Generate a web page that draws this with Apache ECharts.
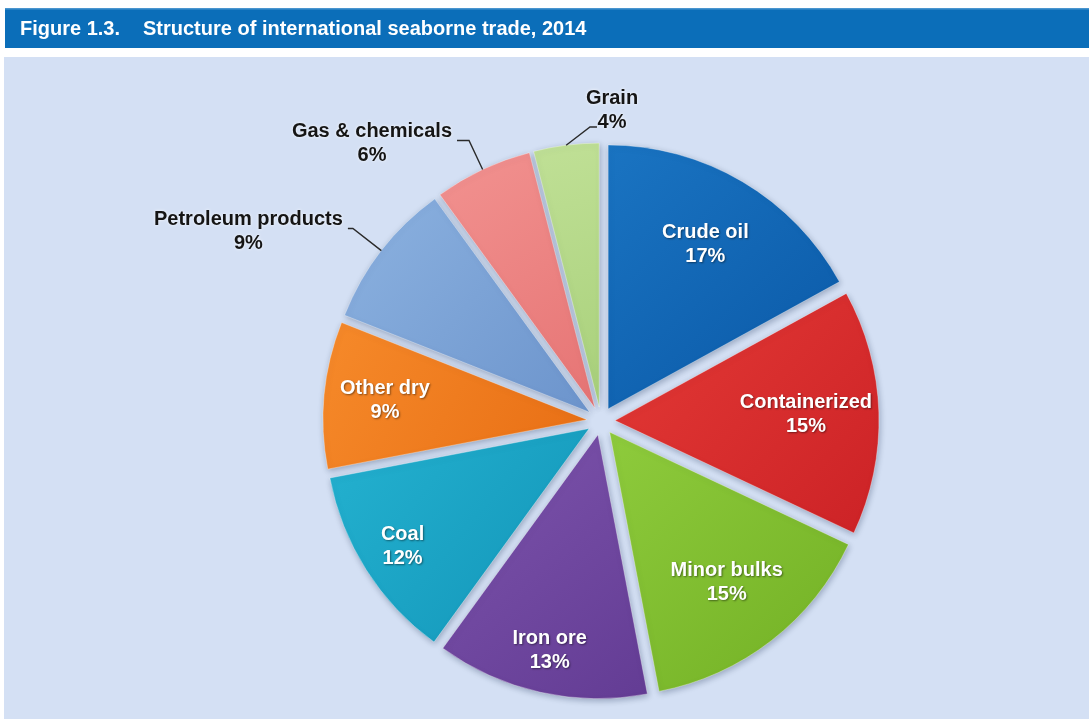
<!DOCTYPE html>
<html>
<head>
<meta charset="utf-8">
<title>Structure of international seaborne trade, 2014</title>
<script src="https://cdn.jsdelivr.net/npm/echarts@6/dist/echarts.min.js"></script>
<style>
  html, body { margin: 0; padding: 0; background: #fff; }
  #chart { width: 1089px; height: 719px; }
</style>
</head>
<body>
<div id="chart"></div>
<script>
const categories = ['Crude oil', 'Containerized', 'Minor bulks', 'Iron ore', 'Coal', 'Other dry', 'Petroleum products', 'Gas & chemicals', 'Grain']
const shares = [17, 15, 15, 13, 12, 9, 9, 6, 4]
const outsideNames = ['Petroleum products', 'Gas & chemicals', 'Grain']
// inside labels are carried by transparent rings at different distances from the centre
const nearRing = ['Crude oil', 'Containerized', 'Minor bulks']
const midRing = ['Other dry']
const farRing = ['Iron ore', 'Coal']
// leader line lengths of the outside labels [length, length2]
const leader = { 'Petroleum products': [36, 5], 'Gas & chemicals': [32, 12], 'Grain': [30, 8] }

// slice colours: [light, dark]
const colors = [
  ['#1a74c2', '#0a58a6'],
  ['#e43a36', '#cc2226'],
  ['#8ecb3c', '#72b024'],
  ['#7d54ac', '#633c94'],
  ['#24b2d0', '#1294b8'],
  ['#f68a2a', '#e86e14'],
  ['#8cb2e0', '#6c94cc'],
  ['#f29290', '#e67474'],
  ['#c0e096', '#a8d07a']
]

const font = "'Liberation Sans', Arial, sans-serif"
const center = [601, 421]
const radius = 264
const offset = 14
const total = shares.reduce((a, b) => a + b, 0)

const chart = echarts.init(document.getElementById('chart'), null, { renderer: 'canvas' })

const grad = (c) => new echarts.graphic.LinearGradient(0, 0, 1, 1, [
  { offset: 0, color: c[0] },
  { offset: 1, color: c[1] }
])

// point on the exploded rim at the middle of slice i
const rimPoint = (i) => {
  const before = shares.slice(0, i).reduce((a, b) => a + b, 0)
  const ang = (90 - (before + shares[i] / 2) / total * 360) * Math.PI / 180
  const r = radius + offset
  return [center[0] + Math.cos(ang) * r, center[1] - Math.sin(ang) * r]
}

const labelText = (p) => '{t|' + p.name + '}\n{t|' + p.value + '%}'

const insideLabel = {
  show: true,
  position: 'inside',
  formatter: labelText,
  rich: {
    t: {
      align: 'center',
      fontFamily: font,
      fontWeight: 'bold',
      fontSize: 20,
      lineHeight: 24,
      color: '#ffffff',
      textShadowColor: 'rgba(0,0,0,0.45)',
      textShadowBlur: 2,
      textShadowOffsetX: 1,
      textShadowOffsetY: 1
    }
  }
}

// transparent ring that only carries the labels of the given slices
const labelRing = (names, r) => ({
  type: 'pie',
  z: 3,
  silent: true,
  center: center,
  radius: r,
  startAngle: 90,
  clockwise: true,
  selectedMode: 'multiple',
  selectedOffset: offset,
  emphasis: { disabled: true },
  itemStyle: { color: 'rgba(0,0,0,0)' },
  labelLine: { show: false },
  data: categories.map((name, i) => ({
    name: name,
    value: shares[i],
    selected: true,
    label: names.includes(name) ? insideLabel : { show: false }
  }))
})

chart.setOption({
  animation: false,
  backgroundColor: '#ffffff',
  graphic: [
    { type: 'rect', z: 0, shape: { x: 5, y: 8, width: 1084, height: 40 }, style: { fill: '#0b6eb9' } },
    { type: 'rect', z: 0, shape: { x: 5, y: 8, width: 1084, height: 1.5 }, style: { fill: '#4a95cf' } },
    { type: 'rect', z: 0, shape: { x: 4, y: 57, width: 1085, height: 662 }, style: { fill: '#d4e0f4' } },
    {
      type: 'text', z: 1, x: 20, y: 29,
      style: { text: 'Figure 1.3.', fill: '#ffffff', font: 'bold 20px ' + font, verticalAlign: 'middle' }
    },
    {
      type: 'text', z: 1, x: 143, y: 29,
      style: { text: 'Structure of international seaborne trade, 2014', fill: '#ffffff', font: 'bold 20px ' + font, verticalAlign: 'middle' }
    }
  ],
  series: [
    // the exploded slices
    {
      type: 'pie',
      z: 2,
      center: center,
      radius: radius,
      startAngle: 90,
      clockwise: true,
      selectedMode: 'multiple',
      selectedOffset: offset,
      emphasis: { disabled: true },
      itemStyle: {
        borderColor: 'rgba(255,255,255,0.35)',
        borderWidth: 1,
        shadowBlur: 6,
        shadowColor: 'rgba(40,60,90,0.35)',
        shadowOffsetX: 1,
        shadowOffsetY: 2
      },
      label: { show: false },
      labelLine: { show: false },
      data: categories.map((name, i) => ({
        name: name,
        value: shares[i],
        selected: true,
        itemStyle: { color: grad(colors[i]) },
        select: { itemStyle: { color: grad(colors[i]) } }
      }))
    },
    labelRing(nearRing, [150, 226]),
    labelRing(midRing, [162, 238]),
    labelRing(farRing, [180, 256]),
    // outside labels with leader lines (transparent, reaches the exploded rim)
    {
      type: 'pie',
      z: 3,
      silent: true,
      center: center,
      radius: radius + offset,
      startAngle: 90,
      clockwise: true,
      avoidLabelOverlap: false,
      emphasis: { disabled: true },
      itemStyle: { color: 'rgba(0,0,0,0)' },
      label: {
        position: 'outside',
        distanceToLabelLine: 5,
        padding: [6, 0, 0, 0],
        formatter: labelText,
        rich: {
          t: {
            align: 'center',
            fontFamily: font,
            fontWeight: 'bold',
            fontSize: 20,
            lineHeight: 24,
            color: '#151515',
            textShadowColor: 'rgba(255,255,255,0.9)',
            textShadowBlur: 3
          }
        }
      },
      labelLine: { lineStyle: { color: '#2a2a2a', width: 1.4 } },
      labelLayout: (p) => {
        if (categories[p.dataIndex] === 'Grain') {
          // label sits above-right of its slice, leader runs up to the "4%" line
          const x = 612
          const y = 107
          return {
            x: x,
            y: y,
            align: 'center',
            verticalAlign: 'middle',
            labelLinePoints: [rimPoint(p.dataIndex), [x - 22, y + 20], [x - 15, y + 20]]
          }
        }
      },
      data: categories.map((name, i) => {
        const outside = outsideNames.includes(name)
        return {
          name: name,
          value: shares[i],
          label: { show: outside },
          labelLine: outside
            ? { show: true, length: leader[name][0], length2: leader[name][1] }
            : { show: false }
        }
      })
    }
  ]
})
</script>
</body>
</html>
